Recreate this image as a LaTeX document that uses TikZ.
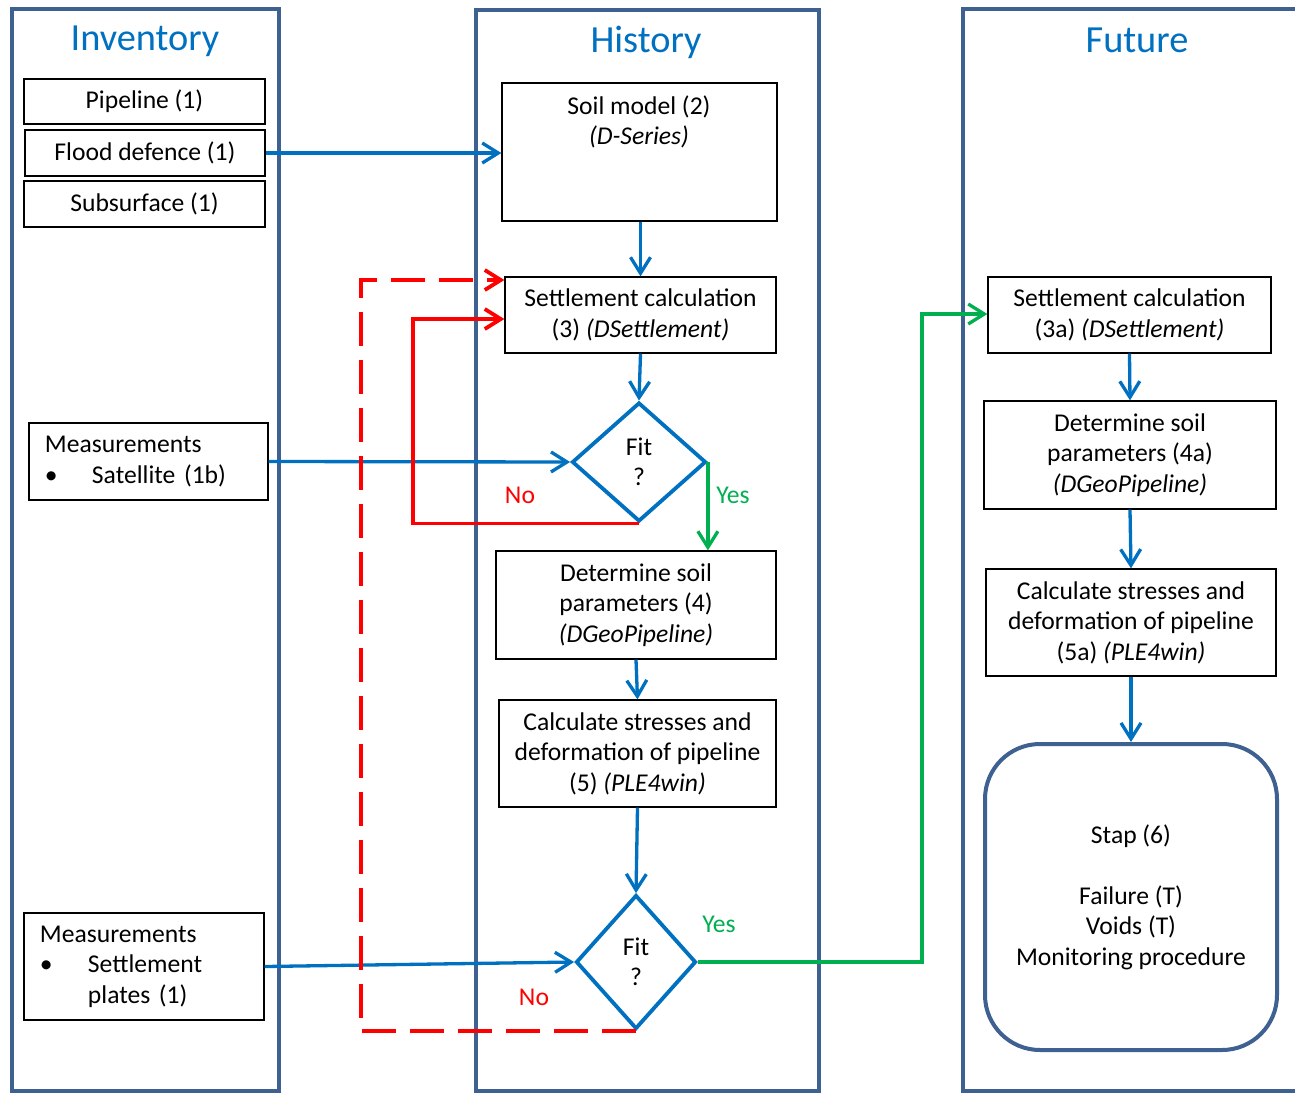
\documentclass[tikz,border=0pt]{standalone}
\usepackage{fontspec}
\setmainfont{Carlito}
\usetikzlibrary{arrows.meta,shapes.geometric,calc}
\definecolor{lanec}{HTML}{3F6192}
\definecolor{bl}{HTML}{0070C0}
\definecolor{gr}{HTML}{00B050}
\definecolor{rd}{HTML}{FF0000}
\newcommand\bodyfont{\fontsize{25.7}{30.5}\selectfont}
\newcommand\titlefont{\fontsize{38.5}{44}\selectfont}
\begin{document}
\begin{tikzpicture}[x=1bp,y=-1bp,
  lanebox/.style={draw=lanec,line width=4bp},
  lanetitle/.style={text=bl,font=\titlefont,inner sep=0},
  box/.style={draw=black,line width=1.3bp,inner sep=0,align=center,font=\bodyfont},
  lbox/.style={draw=black,line width=1.3bp,inner xsep=16bp,inner ysep=0,align=left,font=\bodyfont},
  txt/.style={inner sep=0,align=center,font=\bodyfont},
  dia/.style={draw=bl,line width=3.8bp,diamond,inner sep=0,align=center,font=\bodyfont},
  stapbox/.style={draw=lanec,line width=4bp,rounded corners=55bp,inner sep=0,align=center,font=\bodyfont},
  tip/.style={-{Straight Barb[length=16bp,width=20bp]}},
  barrow/.style={draw=bl,line width=3.3bp,tip},
  garrow/.style={draw=gr,line width=3.3bp,tip},
  rarrow/.style={draw=rd,line width=3.8bp,tip},
  rdash/.style={rarrow,dash pattern=on 34bp off 14bp},
  lab/.style={inner sep=0,font=\bodyfont}
]
\useasboundingbox (0,0) rectangle (1295,1093);
\clip (0,0) rectangle (1295,1093);
\fill[white] (0,0) rectangle (1295,1093);

% lanes
\draw[lanebox] (12,9) rectangle (279,1091);
\draw[lanebox] (476,10) rectangle (819,1091);
\draw[lanebox] (963,9) rectangle (1320,1091);
\node[lanetitle] (tinv) at (145,41) {Inventory};
\node[lanetitle] (this) at (646,42) {History};
\node[lanetitle] (tfut) at (1137,40) {Future};

% inventory
\node[box,minimum width=241bp,minimum height=45bp] (pipe) at (144.5,101.5) {Pipeline (1)};
\node[box,minimum width=240bp,minimum height=46bp] (flood) at (145,153) {Flood defence (1)};
\node[box,minimum width=241bp,minimum height=46bp] (subs) at (144.5,204) {Subsurface (1)};
\node[lbox,minimum width=239bp,minimum height=77bp,text width=207bp] (sat) at (148.5,461.5)
  {Measurements\\\makebox[47bp][l]{•}Satellite (1b)};
\node[lbox,minimum width=240bp,minimum height=107bp,text width=208bp] (plates) at (144,966.5)
  {Measurements\\\makebox[48bp][l]{•}Settlement\\\hspace*{48bp}plates (1)};

% history
\node[box,minimum width=275bp,minimum height=138bp] (soil) at (639.5,152) {};
\node[txt] (soiltxt) at (639,122) {Soil model (2)\\\textit{(D-Series)}};
\node[box,minimum width=271bp,minimum height=76bp] (set) at (640.5,315)
  {Settlement calculation\\(3) \textit{(DSettlement)}};
\node[dia,minimum width=134bp,minimum height=119bp] (d1) at (639,462) {Fit\\?};
\node[box,minimum width=280bp,minimum height=108bp] (det) at (636,605)
  {Determine soil\\parameters (4)\\\textit{(DGeoPipeline)}};
\node[box,minimum width=277bp,minimum height=107bp] (calc) at (637.5,753.5)
  {Calculate stresses and\\deformation of pipeline\\(5) \textit{(PLE4win)}};
\node[dia,minimum width=120bp,minimum height=134bp] (d2) at (636,962) {Fit\\?};

% future
\node[box,minimum width=283bp,minimum height=76bp] (s3a) at (1129.5,315)
  {Settlement calculation\\(3a) \textit{(DSettlement)}};
\node[box,minimum width=292bp,minimum height=108bp] (d4a) at (1130,455)
  {Determine soil\\parameters (4a)\\\textit{(DGeoPipeline)}};
\node[box,minimum width=290bp,minimum height=107bp] (c5a) at (1131,622.5)
  {Calculate stresses and\\deformation of pipeline\\(5a) \textit{(PLE4win)}};
\node[stapbox,minimum width=292bp,minimum height=306bp] (stap) at (1131,897)
  {Stap (6)\\[30.5bp]Failure (T)\\Voids (T)\\Monitoring procedure};

% blue connectors
\draw[barrow] (flood.east) -- (flood.east -| soil.west);
\draw[barrow] (soil.south -| set.north) -- (set.north);
\draw[barrow] (set.south) -- (d1.north);
\draw[barrow] (sat.east) -- (d1.west);
\draw[barrow] (det.south) -- (calc.north);
\draw[barrow] (calc.south) -- (d2.north);
\draw[barrow] (plates.east) -- (d2.west);
\draw[barrow] (s3a.south) -- (d4a.north);
\draw[barrow] (d4a.south) -- (c5a.north);
\draw[barrow] (c5a.south) -- (stap.north);

% green connectors
\draw[garrow] (d1.east) -- (d1.east |- det.north);
\draw[garrow] (d2.east) -- ++(224,0) |- ([yshift=1bp]s3a.west);

% red connectors
\draw[rarrow] (d1.south) -- ++(-226,0) |- ([yshift=-4bp]set.west);
\draw[rdash] (d2.south) -- ++(-275,0) |- ([yshift=35bp]set.west);

% labels
\node[lab,text=rd] (no1) at (520,495) {No};
\node[lab,text=gr] (yes1) at (733,495) {Yes};
\node[lab,text=gr] (yes2) at (719,924) {Yes};
\node[lab,text=rd] (no2) at (534,997) {No};
\end{tikzpicture}
\end{document}
